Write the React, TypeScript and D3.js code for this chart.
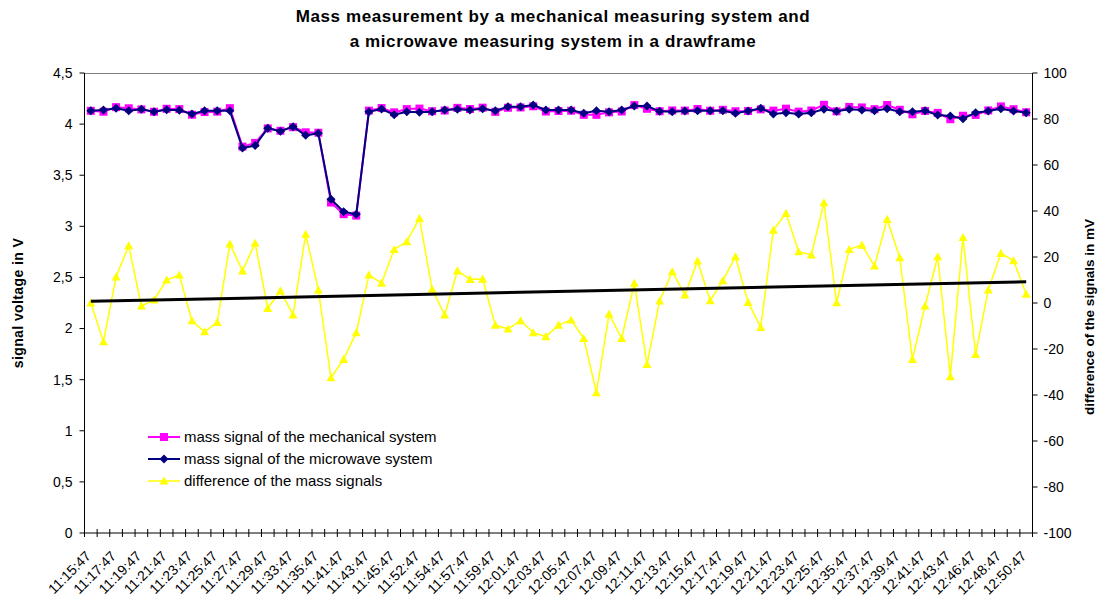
import React from "react";
import * as d3 from "d3";

const timeLabels = [
  "11:15:47", "11:17:47", "11:19:47", "11:21:47", "11:23:47", "11:25:47", "11:27:47", "11:29:47",
  "11:33:47", "11:35:47", "11:41:47", "11:43:47", "11:45:47", "11:52:47", "11:54:47", "11:57:47",
  "11:59:47", "12:01:47", "12:03:47", "12:05:47", "12:07:47", "12:09:47", "12:11:47", "12:13:47",
  "12:15:47", "12:17:47", "12:19:47", "12:21:47", "12:23:47", "12:25:47", "12:35:47", "12:37:47",
  "12:39:47", "12:41:47", "12:43:47", "12:46:47", "12:48:47", "12:50:47",
];

const microwave = [
  4.13, 4.138, 4.155, 4.13, 4.145, 4.12, 4.14, 4.135, 4.1, 4.13,
  4.13, 4.13, 3.766, 3.79, 3.96, 3.93, 3.975, 3.89, 3.91, 3.265,
  3.143, 3.118, 4.12, 4.148, 4.092, 4.12, 4.115, 4.12, 4.138, 4.145,
  4.138, 4.151, 4.13, 4.171, 4.171, 4.187, 4.138, 4.138, 4.138, 4.106,
  4.13, 4.12, 4.138, 4.177, 4.177, 4.125, 4.12, 4.128, 4.13, 4.13,
  4.13, 4.106, 4.128, 4.155, 4.1, 4.112, 4.1, 4.112, 4.145, 4.125,
  4.145, 4.138, 4.13, 4.151, 4.12, 4.12, 4.13, 4.09, 4.08, 4.053,
  4.112, 4.128, 4.151, 4.128, 4.112,
];

const mechanical = [
  4.13, 4.121, 4.166, 4.155, 4.144, 4.121, 4.15, 4.147, 4.092, 4.118,
  4.122, 4.156, 3.78, 3.816, 3.958, 3.935, 3.97, 3.92, 3.916, 3.233,
  3.119, 3.105, 4.132, 4.157, 4.115, 4.147, 4.152, 4.126, 4.133, 4.159,
  4.148, 4.161, 4.12, 4.16, 4.163, 4.174, 4.123, 4.128, 4.131, 4.091,
  4.091, 4.115, 4.123, 4.186, 4.15, 4.126, 4.134, 4.132, 4.148, 4.131,
  4.14, 4.126, 4.128, 4.144, 4.132, 4.151, 4.122, 4.133, 4.189, 4.125,
  4.168, 4.163, 4.146, 4.187, 4.14, 4.096, 4.129, 4.11, 4.048, 4.082,
  4.09, 4.134, 4.173, 4.146, 4.116,
];

const difference = [
  0, -16.8, 11.4, 24.9, -1.3, 1.3, 10, 12.2, -7.7, -12.5,
  -8.4, 25.7, 14, 26, -2.3, 5.3, -5.2, 29.9, 5.7, -32.5,
  -24.5, -12.9, 12.2, 8.6, 23.3, 26.7, 36.8, 6, -5.2, 14,
  10.3, 10.4, -9.6, -11.3, -7.7, -12.9, -14.6, -9.6, -7.4, -15.4,
  -39, -4.8, -15.4, 8.6, -26.7, 0.9, 13.6, 3.5, 18.3, 1,
  9.7, 20.1, 0.3, -10.6, 31.7, 39, 22.3, 20.9, 43.6, 0.1,
  23.3, 25.2, 16.1, 36.4, 19.7, -24.5, -1.3, 20.1, -32, 28.5,
  -22.3, 5.7, 21.6, 18.4, 3.9,
];

const leftTicks = [0, 0.5, 1, 1.5, 2, 2.5, 3, 3.5, 4, 4.5];
const rightTicks = [-100, -80, -60, -40, -20, 0, 20, 40, 60, 80, 100];
const legendNames = [
  "mass signal of the mechanical system",
  "mass signal of the microwave system",
  "difference of the mass signals",
];

const W = 1098;
const H = 604;
const L = 84.5;
const R = 1032.5;
const T = 73;
const B = 533;
const FONT = "'Liberation Sans', Arial, sans-serif";

const MAG = "#FF00FF";
const NAVY = "#000080";
const YEL = "#FFFF00";

const squarePath = (s: number) => `M${-s},${-s}H${s}V${s}H${-s}Z`;
const diamondPath = (s: number) => `M0,${-s}L${s},0L0,${s}L${-s},0Z`;
const trianglePath = (s: number) => `M0,${-s}L${s},${s * 0.8}L${-s},${s * 0.8}Z`;

export default function App() {
  const n = microwave.length;
  const idx = d3.range(n);
  const x = d3.scaleBand<number>().domain(idx).range([L, R]).padding(0);
  const cx = (i: number) => (x(i) as number) + x.bandwidth() / 2;
  const yL = d3.scaleLinear().domain([0, 4.5]).range([B, T]);
  const yR = d3.scaleLinear().domain([-100, 100]).range([B, T]);

  const lineL = d3
    .line<number>()
    .x((_, i) => cx(i))
    .y((d) => yL(d));
  const lineR = d3
    .line<number>()
    .x((_, i) => cx(i))
    .y((d) => yR(d));

  // linear trend of the difference series (least squares)
  const xs = idx.map((i) => i + 1);
  const mx = d3.mean(xs) as number;
  const my = d3.mean(difference) as number;
  const sxy = d3.sum(xs, (v, k) => (v - mx) * (difference[k] - my));
  const sxx = d3.sum(xs, (v) => (v - mx) * (v - mx));
  const slope = sxy / sxx;
  const icpt = my - slope * mx;
  const trendStart = icpt + slope * 1;
  const trendEnd = icpt + slope * n;

  const catEdges = d3.range(n + 1).map((i) => L + (i * (R - L)) / n);

  const legX = 148;
  const legY = [437, 459, 481];

  return (
    <svg
      width={W}
      height={H}
      style={{ position: "absolute", left: 0, top: 0, display: "block", background: "#fff" }}
      fontFamily={FONT}
    >
      <rect x={0} y={0} width={W} height={H} fill="#fff" />
      {/* title */}
      <text x={553} y={22} textAnchor="middle" fontSize={17} fontWeight="bold" letterSpacing={0.6}>
        Mass measurement by a mechanical measuring system and
      </text>
      <text x={553} y={47} textAnchor="middle" fontSize={17} fontWeight="bold" letterSpacing={0.6}>
        a microwave measuring system in a drawframe
      </text>

      {/* top border */}
      <line x1={L} x2={R} y1={T + 0.5} y2={T + 0.5} stroke="#808080" strokeWidth={1} />

      {/* left axis */}
      <line x1={L} x2={L} y1={T} y2={B} stroke="#000" strokeWidth={1} />
      {leftTicks.map((t) => (
        <g key={"l" + t}>
          <line x1={L - 5} x2={L} y1={yL(t)} y2={yL(t)} stroke="#000" />
          <text x={L - 12} y={yL(t)} dy="0.35em" textAnchor="end" fontSize={14}>
            {String(t).replace(".", ",")}
          </text>
        </g>
      ))}

      {/* right axis */}
      <line x1={R} x2={R} y1={T} y2={B} stroke="#000" strokeWidth={1} />
      {rightTicks.map((t) => (
        <g key={"r" + t}>
          <line x1={R} x2={R + 5} y1={yR(t)} y2={yR(t)} stroke="#000" />
          <text x={R + 11} y={yR(t)} dy="0.35em" textAnchor="start" fontSize={14}>
            {t}
          </text>
        </g>
      ))}

      {/* bottom axis */}
      <line x1={L} x2={R} y1={B} y2={B} stroke="#000" strokeWidth={1} />
      {catEdges.map((e, i) => (
        <line key={"t" + i} x1={e} x2={e} y1={B - 4} y2={B + 4} stroke="#000" />
      ))}
      {timeLabels.map((lab, k) => {
        const i = k * 2;
        return (
          <text
            key={"x" + k}
            transform={`translate(${cx(i) + 1},${B + 24}) rotate(-45)`}
            textAnchor="end"
            fontSize={14}
          >
            {lab}
          </text>
        );
      })}

      {/* axis titles */}
      <text
        transform={`translate(23,${(T + B) / 2}) rotate(-90)`}
        textAnchor="middle"
        fontSize={14}
        fontWeight="bold"
        letterSpacing={0.4}
      >
        signal voltage in V
      </text>
      <text
        transform={`translate(1094,317) rotate(-90)`}
        textAnchor="middle"
        fontSize={13.5}
        fontWeight="bold"
      >
        difference of the signals in mV
      </text>

      {/* mechanical */}
      <path d={lineL(mechanical) as string} fill="none" stroke={MAG} strokeWidth={2} />
      {mechanical.map((v, i) => (
        <path key={"m" + i} d={squarePath(4)} transform={`translate(${cx(i)},${yL(v)})`} fill={MAG} />
      ))}

      {/* microwave */}
      <path d={lineL(microwave) as string} fill="none" stroke={NAVY} strokeWidth={2} />
      {microwave.map((v, i) => (
        <path key={"w" + i} d={diamondPath(4.5)} transform={`translate(${cx(i)},${yL(v)})`} fill={NAVY} />
      ))}

      {/* difference */}
      <path d={lineR(difference) as string} fill="none" stroke={YEL} strokeWidth={1.5} />
      {difference.map((v, i) => (
        <path key={"d" + i} d={trianglePath(4.5)} transform={`translate(${cx(i)},${yR(v)})`} fill={YEL} />
      ))}

      {/* trend line */}
      <line
        x1={cx(0)}
        x2={cx(n - 1)}
        y1={yR(trendStart)}
        y2={yR(trendEnd)}
        stroke="#000"
        strokeWidth={3}
      />

      {/* legend */}
      {legendNames.map((name, k) => {
        const y = legY[k];
        const col = [MAG, NAVY, YEL][k];
        const mk = [squarePath(4), diamondPath(4.5), trianglePath(4.5)][k];
        return (
          <g key={"lg" + k}>
            <line x1={legX} x2={legX + 32} y1={y} y2={y} stroke={col} strokeWidth={k === 2 ? 1.5 : 2} />
            <path d={mk} transform={`translate(${legX + 16},${y})`} fill={col} />
            <text x={legX + 36} y={y} dy="0.35em" fontSize={15}>
              {name}
            </text>
          </g>
        );
      })}
    </svg>
  );
}
